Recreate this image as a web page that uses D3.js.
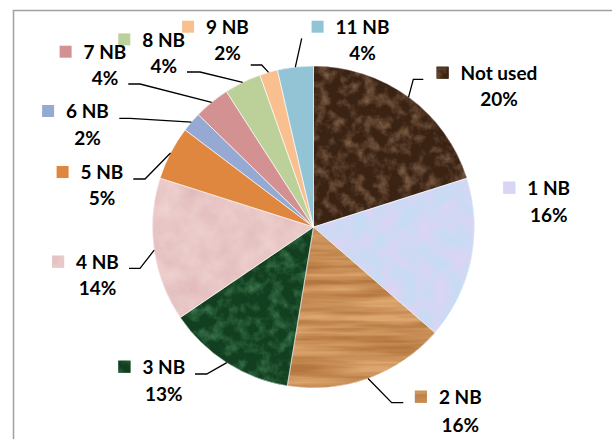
<!DOCTYPE html>
<html><head><meta charset="utf-8">
<script src="https://cdn.jsdelivr.net/npm/d3@7"></script>
<style>
html,body{margin:0;padding:0;background:#fff;}
svg{display:block;}
text{font-family:Lato,"Open Sans",sans-serif;font-weight:700;fill:#000;}
</style></head>
<body>
<script>
// ---- data ----
const categories = ["Not used","1 NB","2 NB","3 NB","4 NB","5 NB","6 NB","7 NB","8 NB","9 NB","11 NB"];
const values = [20.1,16.3,16.2,12.9,14.4,5.4,2.0,3.6,3.7,1.8,3.6];
const percentLabels = ["20%","16%","16%","13%","14%","5%","2%","4%","4%","2%","4%"];

// ---- style / layout ----
const baseColors = ["#4a2c19","#cfdcf4","#c88a50","#1d5230","#e6c1c1","#e0873f","#95a9d2","#d39291","#bcd099","#f9bf8f","#92c4d5"];
// textures: [c1, c2, baseFrequency, slope, intercept, octaves]
const textures = {
  0:["#3b2314","#8c6b50","0.085",1.8,-0.75,4],
  1:["#c6dcf4","#dfd3f4","0.06",1.6,-0.4,3],
  2:["#b4763f","#dca66e","0.009 0.14",1.9,-0.45,3],
  3:["#123f1f","#417f55","0.085",1.8,-0.75,4],
  4:["#e2bcbd","#efd1d0","0.05",1.4,-0.2,3]
};
// label centres (name and percent share a centre), name baseline, percent baseline
const labelCx = [499,548.7,460.3,163.8,97.5,102,87.5,105,163.7,227.5,362.5];
const labelY1 = [80,195,404,374,269,179.3,118.3,59,46.7,34,34];
const labelY2 = [106,221.7,431.7,401,295,205,144.5,85,72.7,60,60];
// leader lines: [endX, endY, elbowX] or null
const leaders = [[423.3,79.3,413.3],null,[403.3,402.7,391.7],[195,374,206.7],[129,268.3,140],[133.3,179,145],[119.3,118.3,130],[128.3,84,140],[187,72,200],[250.7,65,261.7],[301.7,38.3,301.7]];

const W=612,H=439, cx=313.5, cy=227, R=161;

const svg = d3.select("body").append("svg").attr("width",W).attr("height",H);
const defs = svg.append("defs");

function hex(c){const v=d3.rgb(c);return [v.r/255,v.g/255,v.b/255];}
Object.entries(textures).forEach(([i,t])=>{
  const f = defs.append("filter").attr("id","tex"+i)
    .attr("filterUnits","userSpaceOnUse").attr("x",0).attr("y",0).attr("width",W).attr("height",H)
    .attr("color-interpolation-filters","sRGB");
  f.append("feTurbulence").attr("type","fractalNoise").attr("baseFrequency",t[2])
    .attr("numOctaves",t[5]).attr("seed",+i*7+3).attr("result","n");
  const ct = f.append("feComponentTransfer").attr("in","n").attr("result","s");
  ct.append("feFuncR").attr("type","linear").attr("slope",t[3]).attr("intercept",t[4]);
  const a=hex(t[0]), b=hex(t[1]);
  const m = `${b[0]-a[0]} 0 0 0 ${a[0]}  ${b[1]-a[1]} 0 0 0 ${a[1]}  ${b[2]-a[2]} 0 0 0 ${a[2]}  0 0 0 0 1`;
  f.append("feColorMatrix").attr("in","s").attr("type","matrix").attr("values",m).attr("result","c");
  f.append("feComposite").attr("in","c").attr("in2","SourceGraphic").attr("operator","in");
});

// frame
svg.append("rect").attr("x",13.5).attr("y",10.5).attr("width",W+50).attr("height",H+50)
  .attr("fill","none").attr("stroke","#a0a0a0").attr("stroke-width",1.5);

const pie = d3.pie().sort(null).value(d=>d)(values);
const arc = d3.arc().innerRadius(0).outerRadius(R);
const marks = svg.append("g");

function drawFilled(sel, i, build){
  build(sel.append("g")).attr("fill",baseColors[i]);
  if(textures[i]) build(sel.append("g").attr("filter",`url(#tex${i})`)).attr("fill","#000");
}

pie.forEach((d,i)=>{
  drawFilled(marks, i, s=>s.append("path").attr("d",arc(d)).attr("transform",`translate(${cx},${cy})`));
});
// thin separators
svg.append("g").attr("transform",`translate(${cx},${cy})`)
  .selectAll("path").data(pie).join("path").attr("d",arc).attr("fill","none")
  .attr("stroke","#ffffff").attr("stroke-width",0.6).attr("stroke-opacity",0.8);

// leader lines
const edgeArc = d3.arc().innerRadius(R).outerRadius(R);
pie.forEach((d,i)=>{
  const L = leaders[i]; if(!L) return;
  const c = edgeArc.centroid(d);
  svg.append("path").attr("d",d3.line()([[cx+c[0],cy+c[1]],[L[2],L[1]],[L[0],L[1]]]))
    .attr("fill","none").attr("stroke","#000").attr("stroke-width",1.3);
});

// labels
pie.forEach((d,i)=>{
  const t1 = svg.append("text").attr("x",labelCx[i]).attr("y",labelY1[i]).attr("text-anchor","middle")
    .attr("font-size",19).text(categories[i]);
  const w = t1.node().getComputedTextLength();
  const kx = labelCx[i]-w/2-24, ky = labelY1[i]-13.3;
  drawFilled(marks, i, s=>s.append("rect").attr("x",kx).attr("y",ky).attr("width",12).attr("height",12));
  svg.append("text").attr("x",labelCx[i]).attr("y",labelY2[i]).attr("text-anchor","middle")
    .attr("font-size",19).text(percentLabels[i]);
});
</script>
</body></html>
